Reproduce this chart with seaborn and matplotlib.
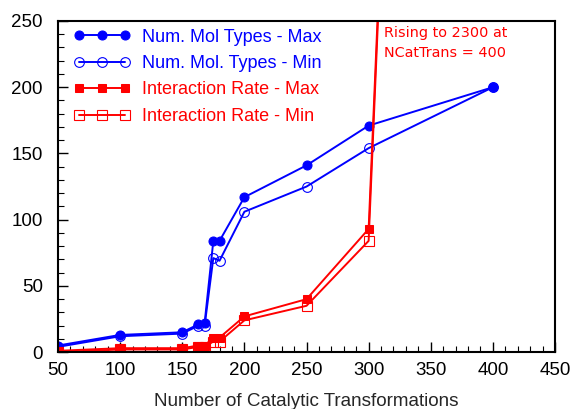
import matplotlib
matplotlib.use("Agg")
import matplotlib.pyplot as plt
from matplotlib.ticker import MultipleLocator
import seaborn as sns
import pandas as pd

# Number of catalytic transformations (x) for every series
n_cat_trans = [50, 100, 150, 163, 168, 175, 180, 200, 250, 300, 400]

mol_types_max = [5, 13, 15, 21, 22, 84, 84, 117, 141, 171, 200]
mol_types_min = [4, 12, 14, 20, 20, 71, 69, 106, 125, 154, 200]
interaction_max = [1, 3, 3, 5, 5, 11, 11, 27, 40, 93, 2300]
interaction_min = [0, 2, 2, 4, 4, 8, 8, 24, 35, 84, 2300]

series_labels = [
    "Num. Mol Types - Max",
    "Num. Mol. Types - Min",
    "Interaction Rate - Max",
    "Interaction Rate - Min",
]

x_ticks = [50, 100, 150, 200, 250, 300, 350, 400, 450]
y_ticks = [0, 50, 100, 150, 200, 250]

sns.set_style("ticks")
plt.rcParams["font.family"] = ["Liberation Sans", "DejaVu Sans"]

fig = plt.figure(figsize=(5.71, 4.09), dpi=100)
ax = fig.add_axes([0.1016, 0.139, 0.8704, 0.8097])

blue = "#0000ff"
red = "#ff0000"
styles = [
    dict(color=blue, marker="o", markersize=6.5, markerfacecolor=blue, markeredgecolor=blue),
    dict(color=blue, marker="o", markersize=7, markerfacecolor="none", markeredgecolor=blue, markeredgewidth=0.8),
    dict(color=red, marker="s", markersize=6, markerfacecolor=red, markeredgecolor=red),
    dict(color=red, marker="s", markersize=6.5, markerfacecolor="none", markeredgecolor=red, markeredgewidth=0.8),
]
values = [mol_types_max, mol_types_min, interaction_max, interaction_min]

for vals, lab, st in zip(values, series_labels, styles):
    df = pd.DataFrame({"x": n_cat_trans, "y": vals})
    sns.lineplot(data=df, x="x", y="y", ax=ax, label=lab, linewidth=1.4, **st)

ax.set_xlim(50, 450)
ax.set_ylim(0, 250)
ax.set_xticks(x_ticks)
ax.set_yticks(y_ticks)
ax.xaxis.set_minor_locator(MultipleLocator(10))
ax.yaxis.set_minor_locator(MultipleLocator(10))
ax.tick_params(axis="both", which="both", direction="in", colors="black", labelsize=13.5)
ax.tick_params(which="major", length=7, width=1)
ax.tick_params(which="minor", length=4, width=0.8)
ax.tick_params(axis="x", which="major", pad=7)
ax.tick_params(axis="y", which="major", pad=11)
for s in ax.spines.values():
    s.set_visible(True)
    s.set_color("black")
    s.set_linewidth(1.5)

ax.set_xlabel("Number of Catalytic Transformations", fontsize=13.6, labelpad=10)
ax.set_ylabel("")

leg = ax.legend(loc="upper left", frameon=False, numpoints=3, fontsize=13,
                handlelength=3.2, handletextpad=0.6, labelspacing=0.52,
                borderaxespad=0.3, bbox_to_anchor=(0.005, 1.015))
for txt, st in zip(leg.get_texts(), styles):
    txt.set_color(st["color"])

ax.text(312.5, 246.5, "Rising to 2300 at\nNCatTrans = 400", color=red,
        fontsize=10.4, family="DejaVu Sans", va="top", ha="left", linespacing=1.55)

fig.savefig("out.png", dpi=100)
